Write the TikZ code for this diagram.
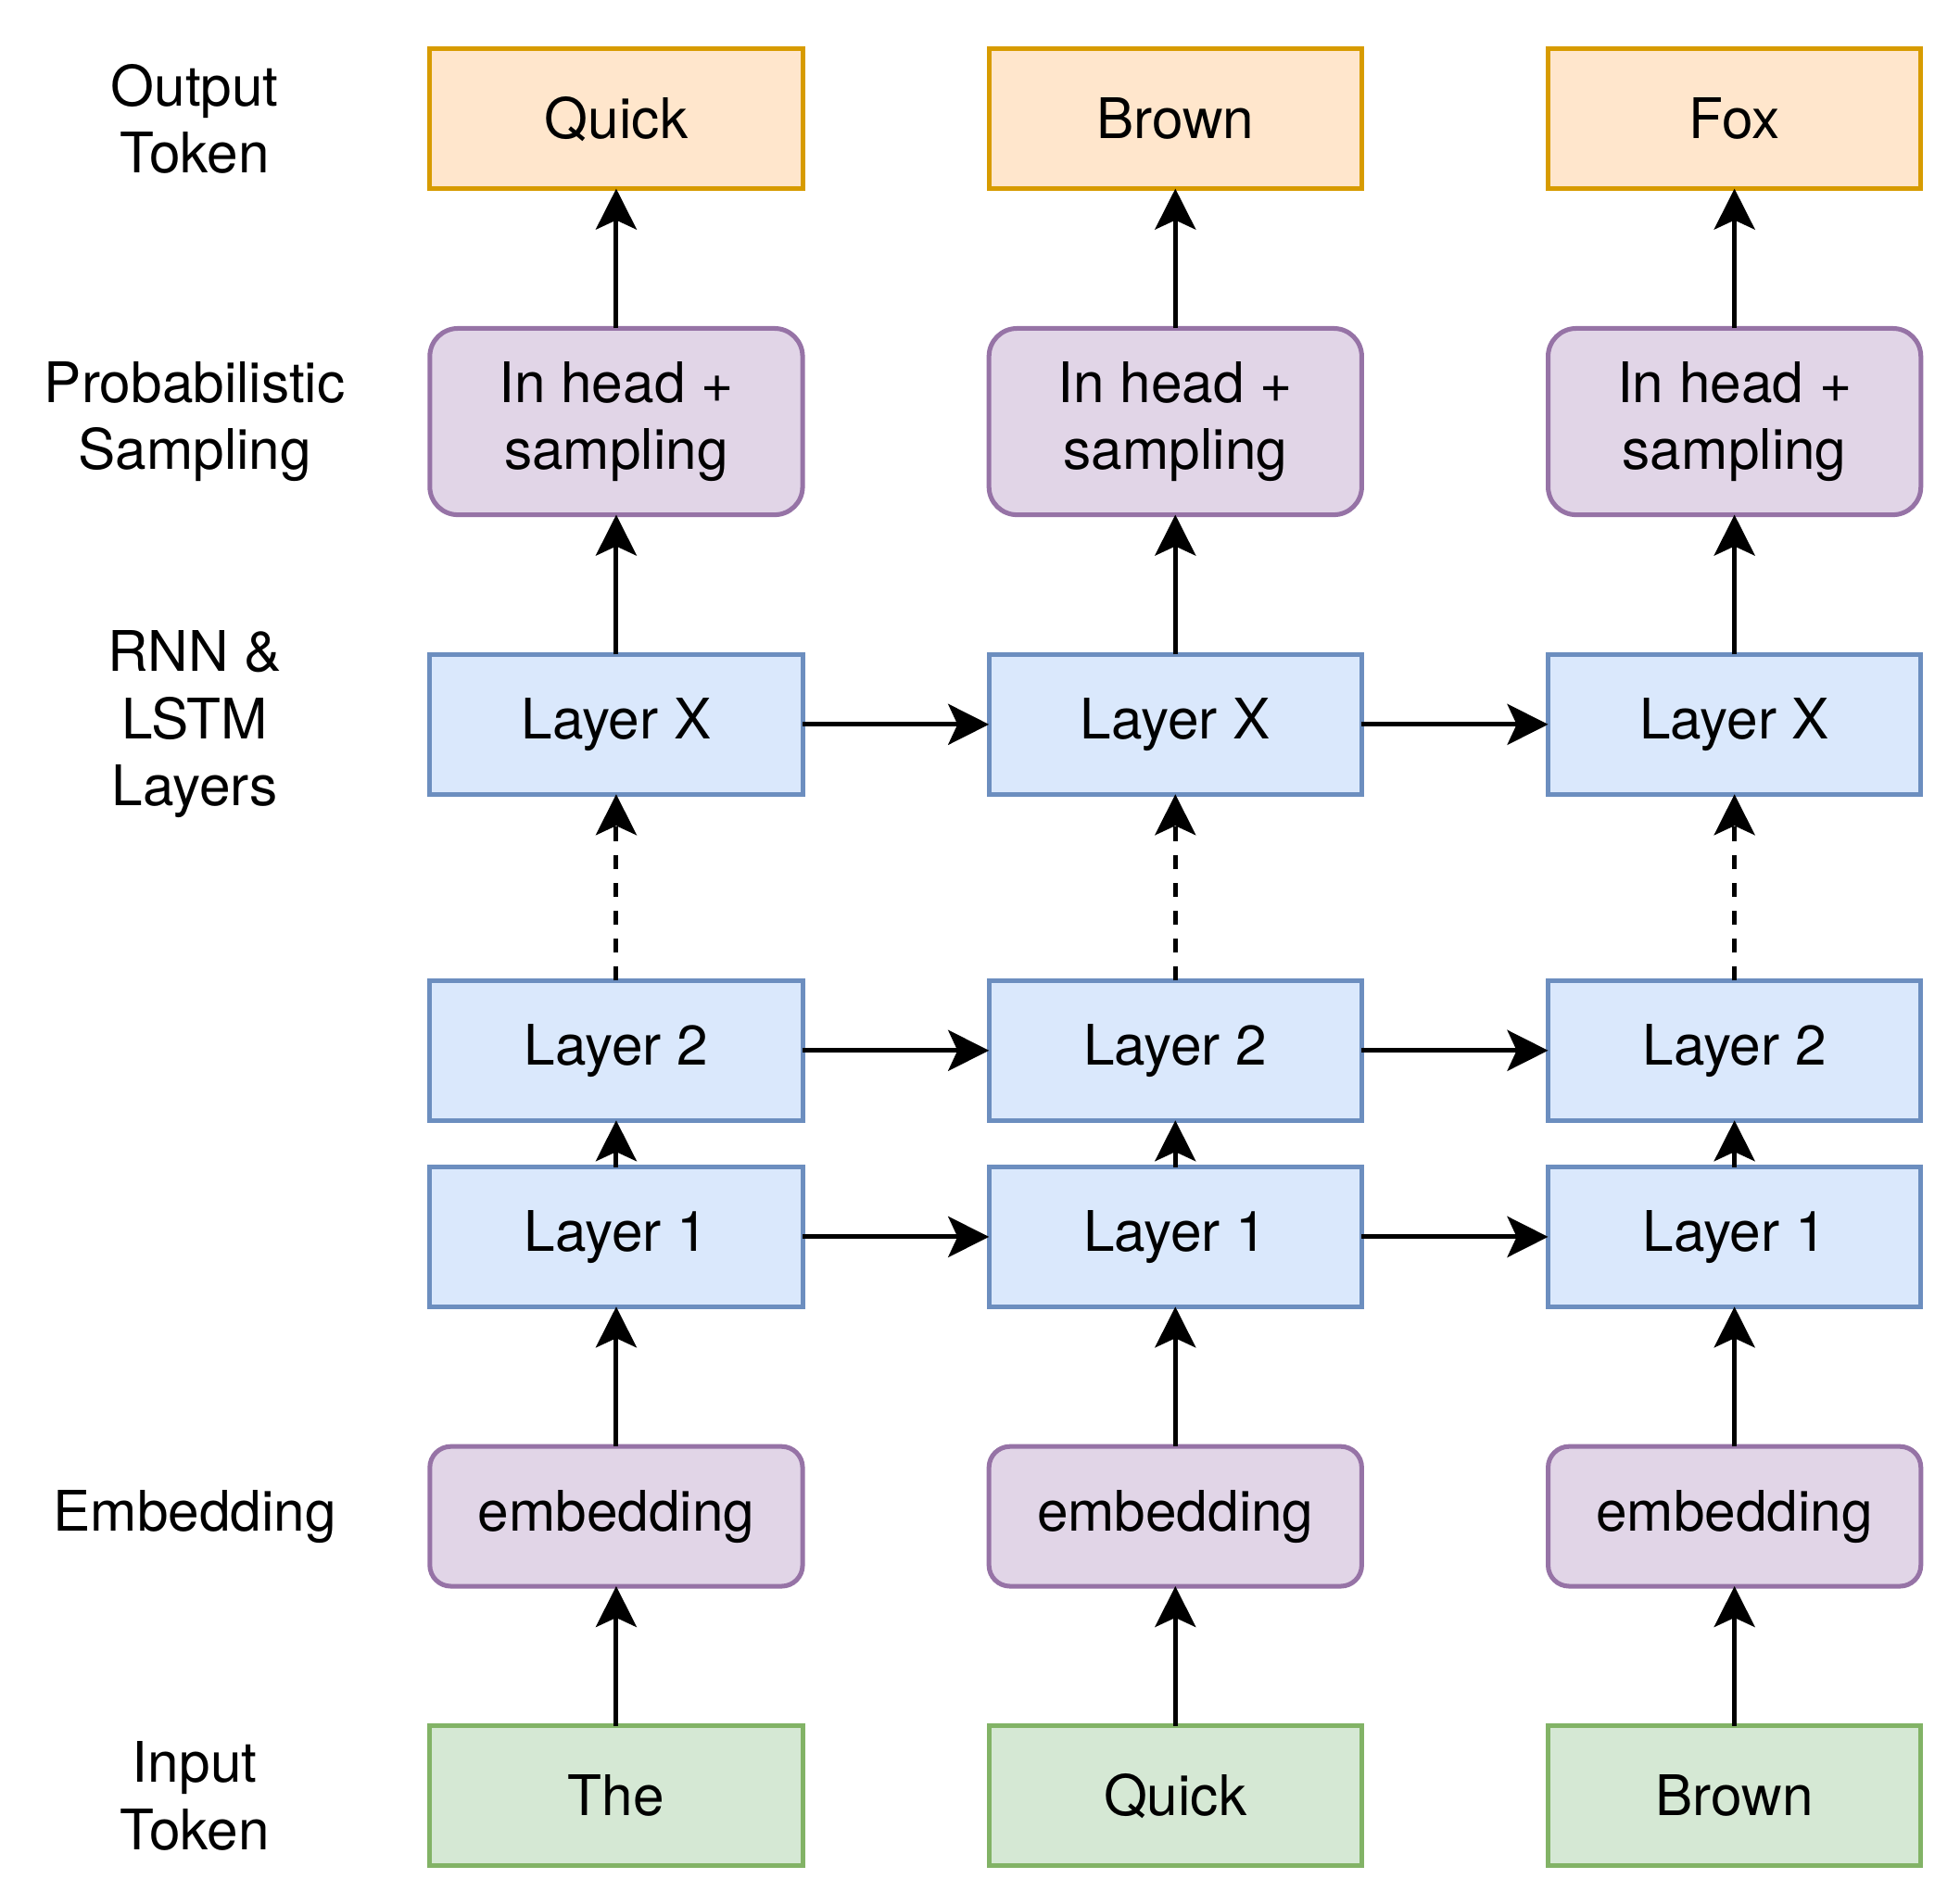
\documentclass[tikz,border=0pt]{standalone}
\usepackage{fontspec}
\setmainfont{TeX Gyre Heros}
\usetikzlibrary{arrows.meta}

\definecolor{outfill}{HTML}{FFE6CC}
\definecolor{outdraw}{HTML}{D79B00}
\definecolor{headfill}{HTML}{E1D5E7}
\definecolor{headdraw}{HTML}{9673A6}
\definecolor{layfill}{HTML}{DAE8FC}
\definecolor{laydraw}{HTML}{6C8EBF}
\definecolor{infill}{HTML}{D5E8D4}
\definecolor{indraw}{HTML}{82B366}

\tikzset{
  every node/.style={font=\fontsize{24}{28.8}\selectfont, align=center},
  box/.style={rectangle, draw, line width=2pt, minimum width=160pt,
    minimum height=60pt, inner sep=0pt, outer sep=0pt},
  outbox/.style={box, fill=outfill, draw=outdraw},
  headbox/.style={box, rounded corners=12pt, fill=headfill, draw=headdraw},
  embbox/.style={box, rounded corners=9pt, fill=headfill, draw=headdraw},
  laybox/.style={box, fill=layfill, draw=laydraw},
  inbox/.style={box, fill=infill, draw=indraw},
  tip/.tip={Stealth[length=17.5pt,width=17.5pt,inset=4pt]}
}

\begin{document}
\begin{tikzpicture}[x=1pt,y=-1pt]

      \useasboundingbox (0,0) rectangle (841.3,817.4);

      % row labels
      \node (lout)  at (83.6,51)  {Output\\Token};
      \node (lsamp) at (83.6,181) {Probabilistic\\Sampling};
      \node (llay)  at (83.6,311) {RNN \&\\LSTM\\Layers};
      \node (lemb)  at (83.6,651) {Embedding};
      \node (lin)   at (83.6,771) {Input\\Token};

      \begin{scope}[every node/.append style={outbox}]
        \node (out1) at (264.5,51) {Quick};
        \node (out2) at (504.5,51) {Brown};
        \node (out3) at (744.5,51) {Fox};
      \end{scope}

      \begin{scope}[every node/.append style={headbox, minimum height=80pt}]
        \node (samp1) at (264.5,181) {In head +\\sampling};
        \node (samp2) at (504.5,181) {In head +\\sampling};
        \node (samp3) at (744.5,181) {In head +\\sampling};
      \end{scope}

      \begin{scope}[every node/.append style={laybox}]
        \node (lx1) at (264.5,311) {Layer X};
        \node (lx2) at (504.5,311) {Layer X};
        \node (lx3) at (744.5,311) {Layer X};
        \node (ltwo1) at (264.5,451) {Layer 2};
        \node (ltwo2) at (504.5,451) {Layer 2};
        \node (ltwo3) at (744.5,451) {Layer 2};
        \node (lone1) at (264.5,531) {Layer 1};
        \node (lone2) at (504.5,531) {Layer 1};
        \node (lone3) at (744.5,531) {Layer 1};
      \end{scope}

      \begin{scope}[every node/.append style={embbox}]
        \node (emb1) at (264.5,651) {embedding};
        \node (emb2) at (504.5,651) {embedding};
        \node (emb3) at (744.5,651) {embedding};
      \end{scope}

      \begin{scope}[every node/.append style={inbox}]
        \node (in1) at (264.5,771) {The};
        \node (in2) at (504.5,771) {Quick};
        \node (in3) at (744.5,771) {Brown};
      \end{scope}

      \begin{scope}[every edge/.style={draw, line width=2pt, -tip}]
        \path (in1) edge (emb1);
        \path (in2) edge (emb2);
        \path (in3) edge (emb3);
        \path (emb1) edge (lone1);
        \path (emb2) edge (lone2);
        \path (emb3) edge (lone3);
        \path (lone1) edge (ltwo1);
        \path (lone2) edge (ltwo2);
        \path (lone3) edge (ltwo3);
        \path (ltwo1) edge[dash pattern=on 6pt off 6pt] (lx1);
        \path (ltwo2) edge[dash pattern=on 6pt off 6pt] (lx2);
        \path (ltwo3) edge[dash pattern=on 6pt off 6pt] (lx3);
        \path (lx1) edge (samp1);
        \path (lx2) edge (samp2);
        \path (lx3) edge (samp3);
        \path (samp1) edge (out1);
        \path (samp2) edge (out2);
        \path (samp3) edge (out3);
        \path (lone1) edge (lone2);
        \path (lone2) edge (lone3);
        \path (ltwo1) edge (ltwo2);
        \path (ltwo2) edge (ltwo3);
        \path (lx1) edge (lx2);
        \path (lx2) edge (lx3);
      \end{scope}

    \end{tikzpicture}
\end{document}
